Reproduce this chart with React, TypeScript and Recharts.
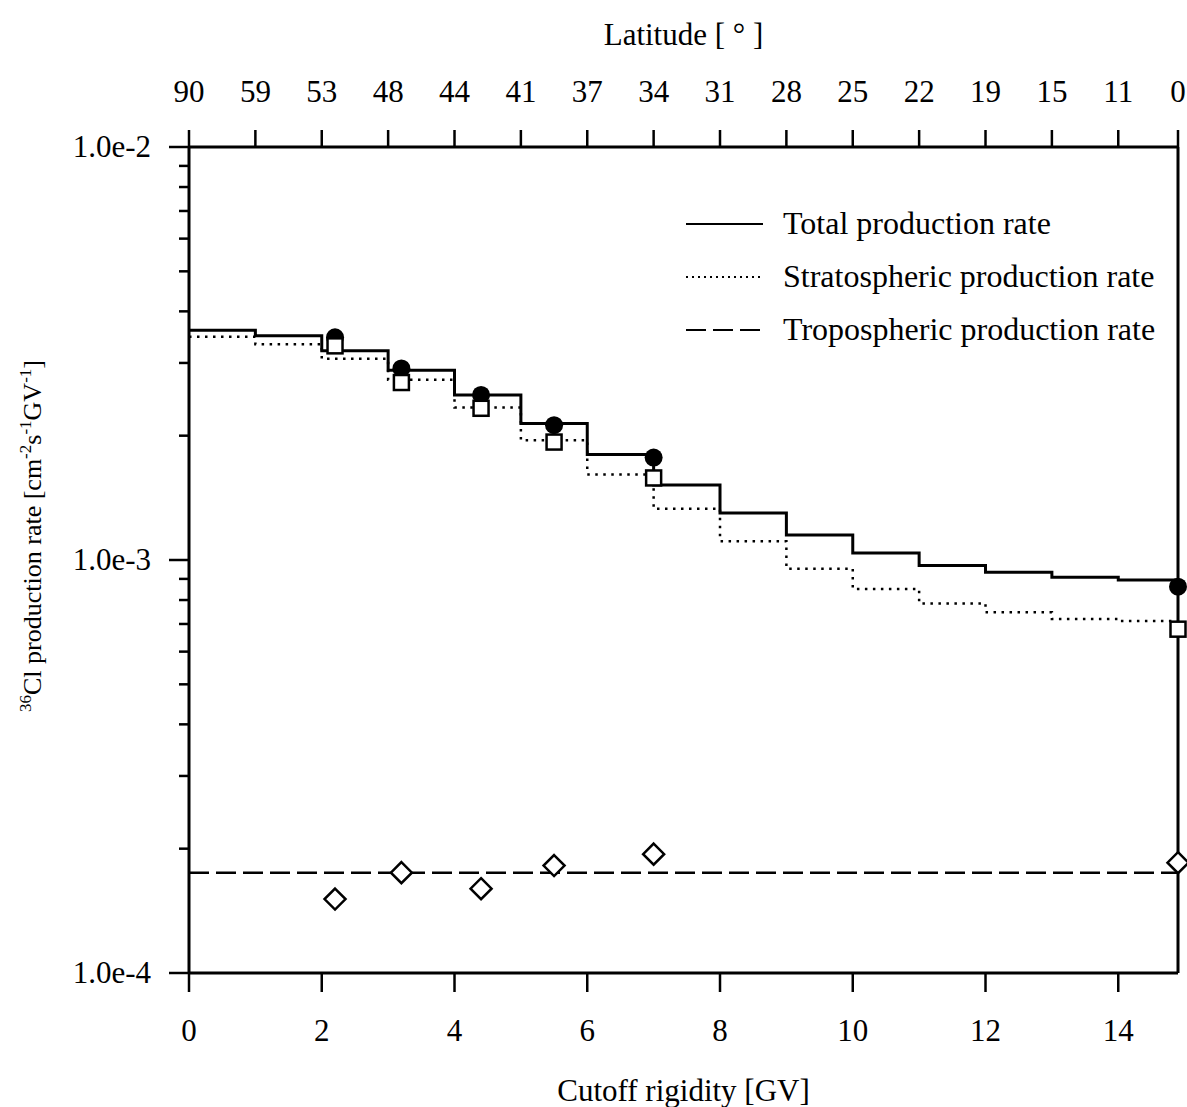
import {
  ComposedChart,
  Line,
  Scatter,
  XAxis,
  YAxis,
  Legend,
  ReferenceLine,
} from 'recharts';

const FONT = '"Liberation Serif", "Times New Roman", serif';

// step edges of the model curves (cutoff rigidity, GV)
const rigidity = [0, 1, 2, 3, 4, 5, 6, 7, 8, 9, 10, 11, 12, 13, 14, 14.9];
const totalRate = [
  3.6e-3, 3.49e-3, 3.21e-3, 2.88e-3, 2.51e-3, 2.14e-3, 1.8e-3, 1.52e-3,
  1.3e-3, 1.15e-3, 1.04e-3, 0.97e-3, 0.934e-3, 0.908e-3, 0.895e-3, 0.895e-3,
];
const stratRate = [
  3.47e-3, 3.33e-3, 3.07e-3, 2.73e-3, 2.34e-3, 1.95e-3, 1.61e-3, 1.33e-3,
  1.11e-3, 0.953e-3, 0.851e-3, 0.785e-3, 0.747e-3, 0.72e-3, 0.712e-3, 0.712e-3,
];
const tropoRigidity = [0, 14.9];
const tropoRate = [1.75e-4, 1.75e-4];

// symbols
const pointRigidity = [2.2, 3.2, 4.4, 5.5, 7.0, 14.9];
const pointTotal = [3.46e-3, 2.91e-3, 2.51e-3, 2.12e-3, 1.77e-3, 0.862e-3];
const pointStrat = [3.3e-3, 2.69e-3, 2.33e-3, 1.93e-3, 1.58e-3, 0.68e-3];
const pointTropo = [1.51e-4, 1.75e-4, 1.6e-4, 1.82e-4, 1.94e-4, 1.85e-4];

// axes
const bottomTicks = [0, 2, 4, 6, 8, 10, 12, 14];
const topTicks = [0, 1, 2, 3, 4, 5, 6, 7, 8, 9, 10, 11, 12, 13, 14, 14.9];
const latitudeLabels = ['90', '59', '53', '48', '44', '41', '37', '34', '31', '28', '25', '22', '19', '15', '11', '0'];
const yTicks = [
  1e-4, 2e-4, 3e-4, 4e-4, 5e-4, 6e-4, 7e-4, 8e-4, 9e-4,
  1e-3, 2e-3, 3e-3, 4e-3, 5e-3, 6e-3, 7e-3, 8e-3, 9e-3, 1e-2,
];
const yMajorLabels = ['1.0e-4', '1.0e-3', '1.0e-2'];

const legendItems = [
  { name: 'Total production rate', dash: undefined },
  { name: 'Stratospheric production rate', dash: '2 4' },
  { name: 'Tropospheric production rate', dash: '20 7' },
];

const zip = (xs: number[], ys: number[]) => xs.map((x, i) => ({ x, y: ys[i] }));

const totalData = zip(rigidity, totalRate);
const stratData = zip(rigidity, stratRate);
const tropoData = zip(tropoRigidity, tropoRate);
const totalPts = zip(pointRigidity, pointTotal);
const stratPts = zip(pointRigidity, pointStrat);
const tropoPts = zip(pointRigidity, pointTropo);

const LeftTick = (props: any) => {
  const { x, y, payload } = props;
  const lg = Math.log10(payload.value);
  const major = Math.abs(lg - Math.round(lg)) < 1e-6;
  const label = yMajorLabels[Math.round(lg) + 4];
  return (
    <g>
      <line x1={x - (major ? 20 : 10)} x2={x} y1={y} y2={y} stroke="#000" strokeWidth={2.5} />
      {major && (
        <text x={x - 38} y={y} dy={10} textAnchor="end" fill="#000" fontSize={31} fontFamily={FONT}>
          {label}
        </text>
      )}
    </g>
  );
};

const YTitle = (props: any) => {
  const vb = props.viewBox;
  const cx = vb.x + 41;
  const cy = vb.y + vb.height / 2 - 24;
  const sup = { fontSize: 17 };
  return (
    <text
      x={cx}
      y={cy}
      transform={`rotate(-90 ${cx} ${cy})`}
      textAnchor="middle"
      fill="#000"
      fontSize={26}
      fontFamily={FONT}
    >
      <tspan {...sup} dy={-10}>36</tspan>
      <tspan dy={10}>Cl production rate [cm</tspan>
      <tspan {...sup} dy={-10}>-2</tspan>
      <tspan dy={10}>s</tspan>
      <tspan {...sup} dy={-10}>-1</tspan>
      <tspan dy={10}>GV</tspan>
      <tspan {...sup} dy={-10}>-1</tspan>
      <tspan dy={10}>]</tspan>
    </text>
  );
};

const LegendBox = () => (
  <svg width={507} height={160}>
    {legendItems.map((it, i) => (
      <g key={it.name}>
        <line
          x1={6}
          x2={83}
          y1={20 + i * 53}
          y2={20 + i * 53}
          stroke="#000"
          strokeWidth={2}
          strokeDasharray={it.dash}
        />
        <text x={103} y={20 + i * 53} dy={10} fill="#000" fontSize={32} fontFamily={FONT}>
          {it.name}
        </text>
      </g>
    ))}
  </svg>
);

const Dot = (props: any) => <circle cx={props.cx} cy={props.cy} r={9} fill="#000" />;
const Box = (props: any) => (
  <rect x={props.cx - 7.5} y={props.cy - 7.5} width={15} height={15} fill="#fff" stroke="#000" strokeWidth={2.5} />
);
const Diamond = (props: any) => {
  const { cx, cy } = props;
  return (
    <path
      d={`M${cx} ${cy - 10.5}L${cx + 10.5} ${cy}L${cx} ${cy + 10.5}L${cx - 10.5} ${cy}Z`}
      fill="#fff"
      stroke="#000"
      strokeWidth={2.5}
    />
  );
};

const tickStyle = { fill: '#000', fontSize: 31, fontFamily: FONT };
const axisStroke = { stroke: '#000', strokeWidth: 3 };

export default function App() {
  return (
    <div style={{ position: 'absolute', left: 0, top: 0, background: '#fff' }}>
      <ComposedChart
        width={1187}
        height={1107}
        margin={{ top: 0, right: 9, bottom: 0, left: 0 }}
        style={{ fontFamily: FONT }}
      >
        <XAxis
          dataKey="x"
          type="number"
          domain={[0, 14.9]}
          ticks={bottomTicks}
          interval={0}
          height={134}
          tickSize={19}
          tickMargin={27}
          tick={tickStyle}
          axisLine={axisStroke}
          tickLine={{ stroke: '#000', strokeWidth: 2.5 }}
          label={{
            value: 'Cutoff rigidity [GV]',
            position: 'insideBottom',
            offset: 6,
            fill: '#000',
            fontSize: 31,
            fontFamily: FONT,
          }}
        />
        <XAxis
          xAxisId="top"
          orientation="top"
          dataKey="x"
          type="number"
          domain={[0, 14.9]}
          allowDataOverflow
          ticks={topTicks}
          interval={0}
          height={147}
          tickSize={17}
          tickMargin={28}
          tick={tickStyle}
          tickFormatter={(v: number) => latitudeLabels[topTicks.indexOf(v)] ?? ''}
          axisLine={axisStroke}
          tickLine={{ stroke: '#000', strokeWidth: 2.5 }}
          label={{
            value: 'Latitude [ ° ]',
            position: 'insideTop',
            offset: 23,
            fill: '#000',
            fontSize: 31,
            fontFamily: FONT,
          }}
        />
        <YAxis
          dataKey="y"
          type="number"
          scale="log"
          domain={[1e-4, 1e-2]}
          ticks={yTicks}
          interval={0}
          width={189}
          tickSize={0}
          tickMargin={0}
          tickLine={false}
          tick={<LeftTick />}
          axisLine={axisStroke}
          label={{ content: (p: any) => <YTitle {...p} /> }}
        />
        <ReferenceLine x={14.9} stroke="#000" strokeWidth={3} />
        <Legend
          layout="horizontal"
          verticalAlign="middle"
          align="center"
          content={<LegendBox />}
          wrapperStyle={{ position: 'absolute', top: 204, left: 680, width: 507, height: 160 }}
        />
        <Line
          data={totalData}
          dataKey="y"
          type="stepAfter"
          stroke="#000"
          strokeWidth={3}
          dot={false}
          isAnimationActive={false}
          legendType="none"
        />
        <Line
          data={stratData}
          dataKey="y"
          type="stepAfter"
          stroke="#000"
          strokeWidth={2.5}
          strokeDasharray="2.5 5.5"
          dot={false}
          isAnimationActive={false}
          legendType="none"
        />
        <Line
          data={tropoData}
          dataKey="y"
          type="linear"
          stroke="#000"
          strokeWidth={2.5}
          strokeDasharray="20 7"
          dot={false}
          isAnimationActive={false}
          legendType="none"
        />
        <Scatter data={totalPts} dataKey="y" shape={<Dot />} isAnimationActive={false} legendType="none" />
        <Scatter data={stratPts} dataKey="y" shape={<Box />} isAnimationActive={false} legendType="none" />
        <Scatter data={tropoPts} dataKey="y" shape={<Diamond />} isAnimationActive={false} legendType="none" />
      </ComposedChart>
    </div>
  );
}
